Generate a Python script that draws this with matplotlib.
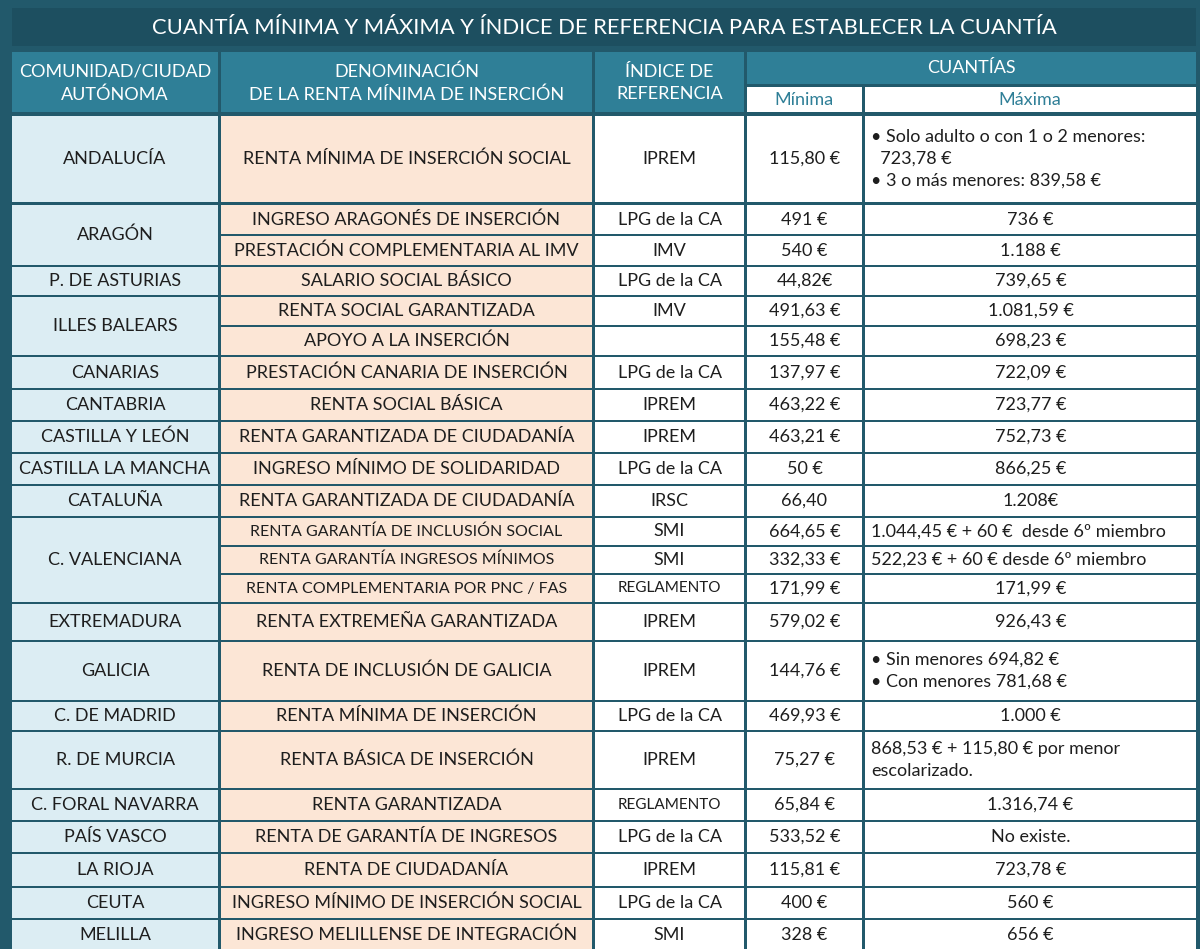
import matplotlib
matplotlib.use("Agg")
import matplotlib.pyplot as plt
from matplotlib.patches import Rectangle

plt.rcParams["font.family"] = ["Lato", "DejaVu Sans"]

TITLE = "CUANTÍA MÍNIMA Y MÁXIMA Y ÍNDICE DE REFERENCIA PARA ESTABLECER LA CUANTÍA"

# community groups: name and number of sub-rows
communities = ["ANDALUCÍA", "ARAGÓN", "P. DE ASTURIAS", "ILLES BALEARS", "CANARIAS",
               "CANTABRIA", "CASTILLA Y LEÓN", "CASTILLA LA MANCHA", "CATALUÑA",
               "C. VALENCIANA", "EXTREMADURA", "GALICIA", "C. DE MADRID", "R. DE MURCIA",
               "C. FORAL NAVARRA", "PAÍS VASCO", "LA RIOJA", "CEUTA", "MELILLA"]
n_sub = [1, 2, 1, 2, 1, 1, 1, 1, 1, 3, 1, 1, 1, 1, 1, 1, 1, 1, 1]

denominacion = ["RENTA MÍNIMA DE INSERCIÓN SOCIAL", "INGRESO ARAGONÉS DE INSERCIÓN",
                "PRESTACIÓN COMPLEMENTARIA AL IMV", "SALARIO SOCIAL BÁSICO",
                "RENTA SOCIAL GARANTIZADA", "APOYO A LA INSERCIÓN",
                "PRESTACIÓN CANARIA DE INSERCIÓN", "RENTA SOCIAL BÁSICA",
                "RENTA GARANTIZADA DE CIUDADANÍA", "INGRESO MÍNIMO DE SOLIDARIDAD",
                "RENTA GARANTIZADA DE CIUDADANÍA", "RENTA GARANTÍA DE INCLUSIÓN SOCIAL",
                "RENTA GARANTÍA INGRESOS MÍNIMOS", "RENTA COMPLEMENTARIA POR PNC / FAS",
                "RENTA EXTREMEÑA GARANTIZADA", "RENTA DE INCLUSIÓN DE GALICIA",
                "RENTA MÍNIMA DE INSERCIÓN", "RENTA BÁSICA DE INSERCIÓN",
                "RENTA GARANTIZADA", "RENTA DE GARANTÍA DE INGRESOS",
                "RENTA DE CIUDADANÍA", "INGRESO MÍNIMO DE INSERCIÓN SOCIAL",
                "INGRESO MELILLENSE DE INTEGRACIÓN"]
indice = ["IPREM", "LPG de la CA", "IMV", "LPG de la CA", "IMV", "", "LPG de la CA",
          "IPREM", "IPREM", "LPG de la CA", "IRSC", "SMI", "SMI", "REGLAMENTO", "IPREM",
          "IPREM", "LPG de la CA", "IPREM", "REGLAMENTO", "LPG de la CA", "IPREM",
          "LPG de la CA", "SMI"]
minima = ["115,80 €", "491 €", "540 €", "44,82€", "491,63 €", "155,48 €", "137,97 €",
          "463,22 €", "463,21 €", "50 €", "66,40", "664,65 €", "332,33 €", "171,99 €",
          "579,02 €", "144,76 €", "469,93 €", "75,27 €", "65,84 €", "533,52 €",
          "115,81 €", "400 €", "328 €"]
maxima = ["• Solo adulto o con 1 o 2 menores:\n  723,78 €\n• 3 o más menores: 839,58 €",
          "736 €", "1.188 €", "739,65 €", "1.081,59 €", "698,23 €", "722,09 €",
          "723,77 €", "752,73 €", "866,25 €", "1.208€",
          "1.044,45 € + 60 €  desde 6º miembro", "522,23 € + 60 € desde 6º miembro",
          "171,99 €", "926,43 €", "• Sin menores 694,82 €\n• Con menores 781,68 €",
          "1.000 €", "868,53 € + 115,80 € por menor\nescolarizado.", "1.316,74 €",
          "No existe.", "723,78 €", "560 €", "656 €"]
left_max = {0, 11, 12, 15, 17}

# layout (pixels)
row_tops = [116, 205, 236, 267, 297, 327, 357, 390, 422, 454, 486, 518, 547, 575,
            604, 642, 702, 732, 790, 822, 854, 888, 920]
row_bots = [202, 234, 265, 295, 325, 355, 388, 420, 452, 484, 516, 545, 573, 602,
            640, 700, 730, 788, 820, 852, 886, 918, 950]
cols = [(12, 218), (221, 592), (595, 744), (747, 862), (865, 1196)]

BG = "#22596b"
HEAD = "#2f7f97"
LBLUE = "#dcedf3"
PEACH = "#fce6d6"
TXT = "#1e1e1e"
FS = 13

fig = plt.figure(figsize=(12, 9.49), dpi=100)
ax = fig.add_axes([0, 0, 1, 1])
ax.set_xlim(0, 1200)
ax.set_ylim(949, 0)
ax.axis("off")
ax.add_patch(Rectangle((0, 0), 1200, 949, color=BG, zorder=0))


def cell(x0, x1, y0, y1, fc):
    ax.add_patch(Rectangle((x0, y0), x1 - x0, y1 - y0, fc=fc, ec="none", zorder=1))


# title
cell(12, 1196, 8, 46, "#1d4f60")
ax.text(604, 28, TITLE, color="white", fontsize=15.8, ha="center", va="center")

# header
for i in range(3):
    cell(cols[i][0], cols[i][1], 52, 112, HEAD)
cell(747, 1196, 52, 84, HEAD)
cell(747, 862, 87, 112, "white")
cell(865, 1196, 87, 112, "white")
hdr = ["COMUNIDAD/CIUDAD\nAUTÓNOMA", "DENOMINACIÓN\nDE LA RENTA MÍNIMA DE INSERCIÓN",
       "ÍNDICE DE\nREFERENCIA"]
for i, h in enumerate(hdr):
    ax.text(sum(cols[i]) / 2, 83, h, color="white", fontsize=FS, ha="center",
            va="center", linespacing=1.5)
ax.text(971, 68, "CUANTÍAS", color="white", fontsize=FS, ha="center", va="center")
ax.text(804, 100, "Mínima", color=HEAD, fontsize=FS, ha="center", va="center")
ax.text(1030, 100, "Máxima", color=HEAD, fontsize=FS, ha="center", va="center")

# body
k = 0
for name, n in zip(communities, n_sub):
    y0, y1 = row_tops[k], row_bots[k + n - 1]
    cell(cols[0][0], cols[0][1], y0, y1, LBLUE)
    ax.text(sum(cols[0]) / 2, (y0 + y1) / 2, name, color=TXT, fontsize=FS,
            ha="center", va="center")
    for j in range(k, k + n):
        t, b = row_tops[j], row_bots[j]
        cy = (t + b) / 2
        cell(cols[1][0], cols[1][1], t, b, PEACH)
        for c in (2, 3, 4):
            cell(cols[c][0], cols[c][1], t, b, "white")
        small = j in (11, 12, 13)
        ax.text(sum(cols[1]) / 2, cy, denominacion[j], color=TXT,
                fontsize=11.5 if small else FS, ha="center", va="center")
        ax.text(sum(cols[2]) / 2, cy, indice[j], color=TXT,
                fontsize=11 if indice[j] == "REGLAMENTO" else FS,
                ha="center", va="center")
        ax.text(sum(cols[3]) / 2, cy, minima[j], color=TXT, fontsize=FS,
                ha="center", va="center")
        if j in left_max:
            ax.text(cols[4][0] + 6, cy, maxima[j], color=TXT, fontsize=FS,
                    ha="left", va="center", linespacing=1.45)
        else:
            ax.text(sum(cols[4]) / 2, cy, maxima[j], color=TXT, fontsize=FS,
                    ha="center", va="center")
    k += n

fig.savefig("out.png", dpi=100, facecolor=BG)
